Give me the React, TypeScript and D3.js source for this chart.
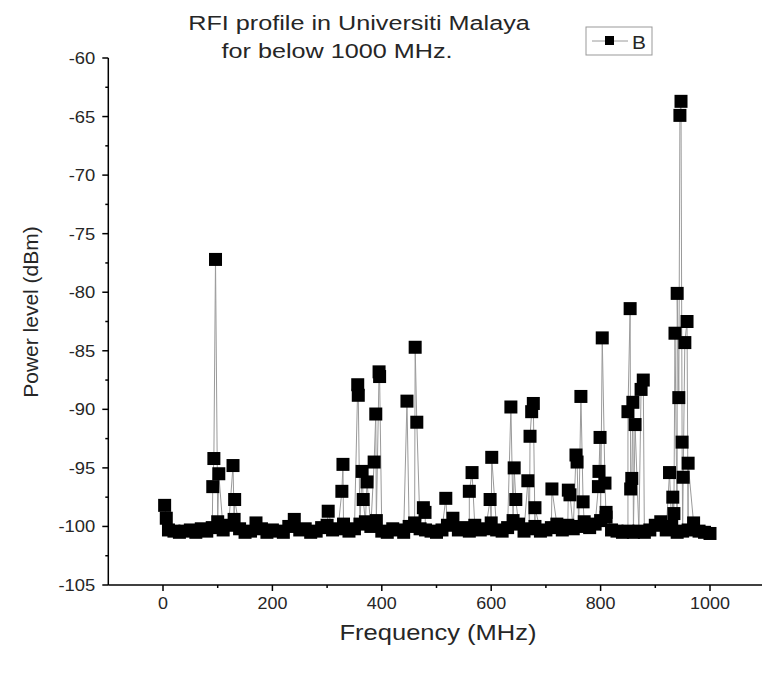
import React from 'react';
import * as d3 from 'd3';

const floorFreqs = [10,20,30,40,50,60,70,80,90,100,110,120,130,140,150,160,170,180,190,200,210,220,230,240,250,260,270,280,290,300,310,320,330,340,350,360,370,380,390,400,410,420,430,440,450,460,470,480,490,500,510,520,530,540,550,560,570,580,590,600,610,620,630,640,650,660,670,680,690,700,710,720,730,740,750,760,770,780,790,800,810,820,830,840,850,860,870,880,890,900,910,920,930,940,950,960,970,980,990,1000];
const floorLevels = [-100.3,-100.4,-100.5,-100.4,-100.3,-100.5,-100.2,-100.4,-100.1,-99.6,-100.3,-99.9,-99.4,-100.2,-100.5,-100.4,-99.7,-100.2,-100.5,-100.3,-100.4,-100.5,-100.0,-99.4,-100.3,-100.2,-100.5,-100.4,-100.1,-99.9,-100.3,-100.2,-99.8,-100.4,-100.2,-99.8,-99.6,-100.0,-99.5,-100.4,-100.5,-100.2,-100.3,-100.5,-100.0,-99.7,-100.2,-100.3,-100.4,-100.5,-100.3,-99.9,-99.3,-100.3,-100.1,-100.4,-99.9,-100.3,-100.2,-99.7,-100.3,-100.4,-100.1,-99.5,-99.8,-100.4,-100.2,-100.0,-100.4,-100.3,-100.1,-99.8,-100.3,-99.9,-100.2,-100.0,-99.6,-100.1,-99.8,-99.5,-99.2,-100.3,-100.4,-100.5,-100.4,-100.5,-100.4,-100.5,-100.3,-99.9,-99.6,-100.3,-100.0,-100.5,-100.4,-100.3,-99.7,-100.4,-100.5,-100.6];
const peakFreqs = [3,6,91,93,96,102,128,131,302,327,329,356,357,364,366,373,386,389,395,396,446,461,464,476,479,517,560,565,598,601,636,642,645,667,671,674,677,680,711,741,744,755,757,764,768,796,797,799,803,808,810,850,854,855,857,859,863,874,878,926,932,934,936,940,943,945,947,949,951,954,958,960];
const peakLevels = [-98.2,-99.3,-96.6,-94.2,-77.2,-95.5,-94.8,-97.7,-98.7,-97.0,-94.7,-87.9,-88.8,-95.3,-97.7,-96.2,-94.5,-90.4,-86.8,-87.2,-89.3,-84.7,-91.1,-98.4,-98.8,-97.6,-97.0,-95.4,-97.7,-94.1,-89.8,-95.0,-97.7,-96.1,-92.3,-90.2,-89.5,-98.4,-96.8,-96.9,-97.3,-93.9,-94.5,-88.9,-97.9,-96.6,-95.3,-92.4,-83.9,-96.3,-98.8,-90.2,-81.4,-96.8,-95.9,-89.4,-91.3,-88.3,-87.5,-95.4,-97.5,-98.9,-83.5,-80.1,-89.0,-64.9,-63.7,-92.8,-95.8,-84.3,-82.5,-94.6];

const xMajorTicks = [0, 200, 400, 600, 800, 1000];
const xMinorTicks = [100, 300, 500, 700, 900];
const yMajorTicks = [-60, -65, -70, -75, -80, -85, -90, -95, -100, -105];
const yMinorTicks = [-62.5, -67.5, -72.5, -77.5, -82.5, -87.5, -92.5, -97.5, -102.5];

const titleLines = ['RFI profile in Universiti Malaya', 'for below 1000 MHz.'];
const xLabel = 'Frequency (MHz)';
const yLabel = 'Power level (dBm)';
const seriesName = 'B';

function SText(props: { x: number; y: number; sx?: number; size: number; anchor?: string; children: React.ReactNode; rotate?: number }) {
  const { x, y, sx = 1, size, anchor = 'start', children, rotate = 0 } = props;
  return (
    <text
      transform={`translate(${x},${y}) rotate(${rotate}) scale(${sx},1)`}
      fontSize={size}
      textAnchor={anchor}
      fill="#262626"
    >
      {children}
    </text>
  );
}

export default function App() {
  const W = 762, H = 673;
  const x = d3.scaleLinear().domain([0, 1000]).range([163, 710]);
  const y = d3.scaleLinear().domain([-105, -60]).range([585, 58]);
  const axisX = x(-100);
  const axisY = y(-105);

  const data: { f: number; v: number }[] = [];
  floorFreqs.forEach((f, i) => data.push({ f, v: floorLevels[i] }));
  peakFreqs.forEach((f, i) => data.push({ f, v: peakLevels[i] }));
  data.sort((a, b) => a.f - b.f);

  const line = d3.line<{ f: number; v: number }>().x(d => x(d.f)).y(d => y(d.v));
  const font = '"Liberation Sans", Arial, sans-serif';
  const ms = 13;

  return (
    <svg width={W} height={H} style={{ position: 'absolute', left: 0, top: 0, background: '#fff' }} fontFamily={font}>
      <rect x={0} y={0} width={W} height={H} fill="#fff" />
      {/* title */}
      <SText x={359} y={30} size={21} sx={1.2} anchor="middle">{titleLines[0]}</SText>
      <SText x={337} y={58} size={21} sx={1.2} anchor="middle">{titleLines[1]}</SText>

      {/* data line */}
      <path d={line(data) || ''} fill="none" stroke="#9a9a9a" strokeWidth={1} />
      {data.map((d, i) => (
        <rect key={i} x={x(d.f) - ms / 2} y={y(d.v) - ms / 2} width={ms} height={ms} fill="#000" />
      ))}

      {/* axes */}
      <line x1={axisX} x2={axisX} y1={y(-60)} y2={axisY} stroke="#000" strokeWidth={1.5} />
      <line x1={axisX} x2={762} y1={axisY} y2={axisY} stroke="#000" strokeWidth={1.5} />
      {yMajorTicks.map(t => (
        <g key={'ym' + t}>
          <line x1={axisX - 6} x2={axisX} y1={y(t)} y2={y(t)} stroke="#000" strokeWidth={1.5} />
          <SText x={axisX - 13} y={y(t) + 6} size={16} sx={1.15} anchor="end">{t}</SText>
        </g>
      ))}
      {yMinorTicks.map(t => (
        <line key={'yn' + t} x1={axisX - 3} x2={axisX} y1={y(t)} y2={y(t)} stroke="#000" strokeWidth={1.5} />
      ))}
      {xMajorTicks.map(t => (
        <g key={'xm' + t}>
          <line x1={x(t)} x2={x(t)} y1={axisY} y2={axisY + 6} stroke="#000" strokeWidth={1.5} />
          <SText x={x(t)} y={axisY + 24} size={16} sx={1.12} anchor="middle">{t}</SText>
        </g>
      ))}
      {xMinorTicks.map(t => (
        <line key={'xn' + t} x1={x(t)} x2={x(t)} y1={axisY} y2={axisY + 3} stroke="#000" strokeWidth={1.5} />
      ))}

      {/* axis labels */}
      <SText x={438} y={640} size={22} sx={1.16} anchor="middle">{xLabel}</SText>
      <SText x={38} y={312} size={21} rotate={-90} anchor="middle">{yLabel}</SText>

      {/* legend */}
      <rect x={586} y={27} width={66} height={28} fill="#fff" stroke="#999" strokeWidth={1} />
      <line x1={592} x2={628} y1={41} y2={41} stroke="#9a9a9a" strokeWidth={1} />
      <rect x={605} y={36} width={9} height={9} fill="#000" />
      <SText x={632} y={49} size={19} sx={1.1}>{seriesName}</SText>
    </svg>
  );
}
